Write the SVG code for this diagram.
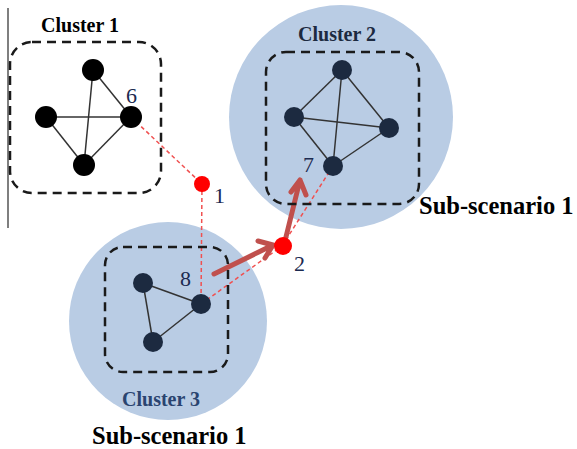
<svg xmlns="http://www.w3.org/2000/svg" width="577" height="449" viewBox="0 0 577 449">
<defs>
<style>
.bg{fill:#b9cce4}
.box{fill:none;stroke:#1a1a1a;stroke-width:2.5;stroke-dasharray:9 6}
.edge{stroke:#333;stroke-width:1.5;fill:none}
.n1{fill:#000}
.n{fill:#1c2a40}
.red{fill:#ff0000}
.rdash{stroke:#f05050;stroke-width:1.5;stroke-dasharray:4 3;fill:none}
.arrow{stroke:#c0504d;stroke-width:5;fill:none;stroke-linecap:round;stroke-linejoin:round}
.title{font-family:"Liberation Serif",serif;font-weight:bold;font-size:20px;text-anchor:middle}
.num{font-family:"Liberation Serif",serif;font-size:22px;fill:#1c2a50}
.sub{font-family:"Liberation Serif",serif;font-weight:bold;font-size:24.5px;fill:#000}
</style>
</defs>
<line x1="8" y1="8" x2="8" y2="228" stroke="#555" stroke-width="1.5"/>
<g id="cluster2-area"><circle class="bg" cx="341" cy="117" r="112"/></g>
<g id="cluster3-area"><circle class="bg" cx="168" cy="321" r="99"/></g>
<g id="connectors">
<line class="rdash" x1="131" y1="117" x2="202" y2="184"/>
<line class="rdash" x1="202" y1="184" x2="201" y2="304"/>
<line class="rdash" x1="201" y1="304" x2="282" y2="246"/>
<line class="rdash" x1="282" y1="246" x2="333" y2="166"/>
<path class="arrow" d="M214 274 L273 245 M258 241 L273 245 L265 258"/>
<path class="arrow" d="M284 245 L300 180 M291 192 L300 180 L306 195"/>
</g>
<g id="cluster1">
<rect class="box" x="10" y="42" width="151" height="151" rx="22"/>
<text class="title" x="80" y="32" fill="#000">Cluster 1</text>
<line class="edge" x1="93" y1="70" x2="131" y2="117"/>
<line class="edge" x1="93" y1="70" x2="84" y2="165"/>
<line class="edge" x1="46" y1="117" x2="131" y2="117"/>
<line class="edge" x1="46" y1="117" x2="84" y2="165"/>
<line class="edge" x1="131" y1="117" x2="84" y2="165"/>
<circle class="n1" cx="93" cy="70" r="11"/>
<circle class="n1" cx="46" cy="117" r="11"/>
<circle class="n1" cx="131" cy="117" r="11"/>
<circle class="n1" cx="84" cy="165" r="11"/>
<text class="num" x="126" y="103">6</text>
</g>
<g id="cluster2">
<rect class="box" x="266" y="52" width="153" height="152" rx="20"/>
<text class="title" x="337" y="41" fill="#1c2a40">Cluster 2</text>
<line class="edge" x1="342" y1="70" x2="294" y2="117"/>
<line class="edge" x1="342" y1="70" x2="389" y2="128"/>
<line class="edge" x1="342" y1="70" x2="333" y2="166"/>
<line class="edge" x1="294" y1="117" x2="389" y2="128"/>
<line class="edge" x1="294" y1="117" x2="333" y2="166"/>
<line class="edge" x1="389" y1="128" x2="333" y2="166"/>
<circle class="n" cx="342" cy="70" r="10"/>
<circle class="n" cx="294" cy="117" r="10"/>
<circle class="n" cx="389" cy="128" r="10"/>
<circle class="n" cx="333" cy="166" r="10"/>
<text class="num" x="303" y="172">7</text>
<text class="sub" x="419" y="214">Sub-scenario 1</text>
</g>
<g id="cluster3">
<rect class="box" x="105" y="247" width="123" height="125" rx="18"/>
<text class="title" x="161" y="406" fill="#2a4470">Cluster 3</text>
<line class="edge" x1="143" y1="283" x2="201" y2="304"/>
<line class="edge" x1="143" y1="283" x2="153" y2="342"/>
<line class="edge" x1="153" y1="342" x2="201" y2="304"/>
<circle class="n" cx="143" cy="283" r="10"/>
<circle class="n" cx="201" cy="304" r="10"/>
<circle class="n" cx="153" cy="342" r="10"/>
<text class="num" x="180" y="286">8</text>
<text class="sub" x="92" y="444">Sub-scenario 1</text>
</g>
<g id="node1">
<circle class="red" cx="202" cy="184" r="8"/>
<text class="num" x="214" y="203">1</text>
</g>
<g id="node2">
<circle class="red" cx="283" cy="246" r="9"/>
<text class="num" x="294" y="271" fill="#000">2</text>
</g>
</svg>
